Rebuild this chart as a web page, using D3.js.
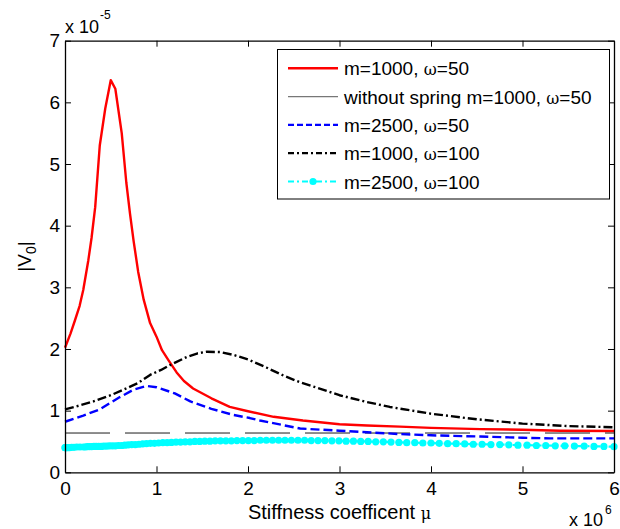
<!DOCTYPE html>
<html><head><meta charset="utf-8">
<script src="https://cdn.jsdelivr.net/npm/d3@7"></script>
<style>body{margin:0;background:#fff}svg{display:block}text{font-family:"Liberation Sans",Arial,sans-serif;fill:#000}</style>
</head><body><svg id="c" width="620" height="529"></svg>
<script>
const xTicks=[0,1,2,3,4,5,6];
const yTicks=[0,1,2,3,4,5,6,7];
const legendLabels=["m=1000, |ω|=50","without spring m=1000, |ω|=50","m=2500, |ω|=50","m=1000, |ω|=100","m=2500, |ω|=100"];
const redPts=[[0,2.02],[0.06,2.25],[0.11,2.47],[0.16,2.7],[0.2,2.96],[0.255,3.44],[0.29,3.8],[0.33,4.3],[0.38,5.3],[0.44,5.9],[0.5,6.36],[0.55,6.22],[0.62,5.5],[0.67,4.7],[0.71,4.2],[0.75,3.75],[0.8,3.25],[0.86,2.8],[0.93,2.42],[1.0,2.2],[1.06,1.98],[1.13,1.82],[1.22,1.62],[1.3,1.48],[1.4,1.36],[1.6,1.2],[1.8,1.06],[2.0,0.99],[2.28,0.9],[2.6,0.84],[3.0,0.78],[3.3,0.76],[3.66,0.74],[4.0,0.72],[4.54,0.70],[5.0,0.69],[5.41,0.675],[6,0.67]];
const noSpringPts=[[0,0.637],[6,0.637]];
const bluePts=[[0,0.82],[0.2,0.92],[0.38,1.02],[0.5,1.13],[0.6,1.22],[0.75,1.34],[0.89,1.40],[1.0,1.38],[1.2,1.28],[1.37,1.15],[1.6,1.03],[1.84,0.93],[2.02,0.88],[2.13,0.84],[2.4,0.76],[2.57,0.71],[3.0,0.675],[3.3,0.65],[3.66,0.62],[4.0,0.60],[4.54,0.58],[5.0,0.56],[5.3,0.55],[6,0.55]];
const blackPts=[[0,1.02],[0.15,1.08],[0.31,1.15],[0.5,1.25],[0.67,1.36],[0.8,1.45],[0.93,1.58],[1.05,1.66],[1.15,1.74],[1.33,1.87],[1.45,1.93],[1.55,1.955],[1.7,1.95],[1.85,1.9],[2.0,1.83],[2.2,1.7],[2.4,1.56],[2.57,1.46],[2.8,1.35],[3.0,1.25],[3.3,1.14],[3.55,1.06],[4.0,0.95],[4.5,0.86],[5.0,0.79],[5.5,0.75],[6,0.73]];
const cyanPts=[[0,0.40],[0.002,0.40],[0.008,0.40],[0.018,0.40],[0.032,0.40],[0.05,0.40],[0.073,0.405],[0.099,0.405],[0.129,0.41],[0.164,0.41],[0.202,0.41],[0.223,0.41],[0.244,0.415],[0.267,0.415],[0.291,0.415],[0.316,0.42],[0.341,0.42],[0.368,0.42],[0.396,0.42],[0.425,0.425],[0.455,0.425],[0.485,0.43],[0.517,0.43],[0.55,0.43],[0.584,0.435],[0.619,0.435],[0.654,0.44],[0.691,0.445],[0.729,0.45],[0.768,0.45],[0.808,0.455],[0.849,0.46],[0.891,0.465],[0.934,0.47],[0.978,0.47],[1.023,0.475],[1.069,0.48],[1.116,0.48],[1.163,0.485],[1.213,0.49],[1.263,0.49],[1.314,0.495],[1.366,0.495],[1.419,0.50],[1.473,0.50],[1.528,0.505],[1.584,0.505],[1.641,0.51],[1.699,0.51],[1.758,0.51],[1.818,0.51],[1.879,0.515],[1.941,0.515],[2.004,0.515],[2.068,0.515],[2.134,0.52],[2.2,0.52],[2.267,0.52],[2.335,0.52],[2.404,0.52],[2.474,0.52],[2.546,0.52],[2.618,0.52],[2.691,0.515],[2.765,0.515],[2.84,0.515],[2.917,0.51],[2.994,0.51],[3.072,0.505],[3.152,0.505],[3.232,0.50],[3.313,0.50],[3.396,0.495],[3.479,0.495],[3.563,0.49],[3.649,0.485],[3.735,0.48],[3.823,0.48],[3.911,0.475],[4.0,0.475],[4.09,0.47],[4.182,0.465],[4.275,0.465],[4.368,0.46],[4.462,0.455],[4.558,0.455],[4.655,0.45],[4.752,0.45],[4.85,0.445],[4.95,0.44],[5.05,0.44],[5.152,0.435],[5.254,0.435],[5.358,0.43],[5.462,0.43],[5.567,0.425],[5.674,0.425],[5.781,0.42],[5.89,0.42],[6.0,0.415]];

const L=65,R=614,T=40.7,B=472.3;
const svg=d3.select("#c");
const x=d3.scaleLinear().domain([0,6]).range([L,R]);
const y=d3.scaleLinear().domain([0,7]).range([B,T]);
const line=d3.line().x(d=>x(d[0])).y(d=>y(d[1]));

const series=[
 {pts:redPts,color:"#ff0000",w:2.4,dash:null,lw:2.4},
 {pts:noSpringPts,color:"#000",w:0.9,dash:"45,15",legendColor:"#777",lw:1.2,ldash:null},
 {pts:bluePts,color:"#0000ff",w:2.4,dash:"9,4",lw:2.2,ldash:"6,3"},
 {pts:blackPts,color:"#000",w:2.4,dash:"9,3,2,3",lw:2.2,ldash:"6,3,2,3"},
 {pts:cyanPts,color:"#00ffff",w:2.2,dash:"8,3,2,3",lw:2.2,ldash:"6,3,2,3",marker:true}
];
const g=svg.append("g");
series.forEach(s=>{
 g.append("path").datum(s.pts).attr("d",line).attr("fill","none").attr("stroke",s.color)
  .attr("stroke-width",s.w).attr("stroke-dasharray",s.dash).attr("stroke-linejoin","round");
 if(s.marker){
  g.selectAll(null).data(s.pts).enter().append("circle").attr("cx",d=>x(d[0])).attr("cy",d=>y(d[1]))
   .attr("r",3.6).attr("fill",s.color);
 }
});

// axes (box with inward ticks)
const ax=svg.append("g");
ax.append("g").attr("transform",`translate(0,${B})`).call(d3.axisBottom(x).tickValues(xTicks).tickSizeInner(-6).tickSizeOuter(0).tickPadding(9).tickFormat(d3.format("d")));
ax.append("g").attr("transform",`translate(0,${T})`).call(d3.axisTop(x).tickValues(xTicks).tickSizeInner(-6).tickSizeOuter(0).tickFormat(""));
ax.append("g").attr("transform",`translate(${L},0)`).call(d3.axisLeft(y).tickValues(yTicks).tickSizeInner(-6).tickSizeOuter(0).tickPadding(5).tickFormat(d3.format("d")));
ax.append("g").attr("transform",`translate(${R},0)`).call(d3.axisRight(y).tickValues(yTicks).tickSizeInner(-6).tickSizeOuter(0).tickFormat(""));
ax.selectAll(".domain").attr("stroke","#000").attr("stroke-width",1.3);
ax.selectAll(".tick line").attr("stroke","#000").attr("stroke-width",1);
ax.selectAll(".tick text").attr("font-size",19).attr("font-family","Liberation Sans, Arial, sans-serif").attr("fill","#000");

// exponent labels
const e1=svg.append("text").attr("x",65).attr("y",33).attr("font-size",18);
e1.append("tspan").text("x 10");
e1.append("tspan").attr("font-size",12).attr("dy",-14).attr("dx",1).text("-5");
const e2=svg.append("text").attr("x",569).attr("y",526).attr("font-size",18);
e2.append("tspan").text("x 10");
e2.append("tspan").attr("font-size",12).attr("dy",-12).attr("dx",2).text("6");

// axis labels
const xl=svg.append("text").attr("x",(L+R)/2).attr("y",519).attr("text-anchor","middle").attr("font-size",20);
xl.append("tspan").text("Stiffness coefficent ");
xl.append("tspan").attr("font-family","DejaVu Serif, serif").attr("font-size",16).text("μ");
const yl=svg.append("text").attr("transform",`translate(31,${(T+B)/2}) rotate(-90)`).attr("text-anchor","middle").attr("font-size",19);
yl.append("tspan").text("|V");
yl.append("tspan").attr("font-size",14).attr("dy",5).text("0");
yl.append("tspan").attr("dy",-5).text("|");

// legend
const lg=svg.append("g");
lg.append("rect").attr("x",277.5).attr("y",49.5).attr("width",332).attr("height",149.5).attr("fill","#fff").attr("stroke","#000").attr("stroke-width",1);
series.forEach((s,i)=>{
 const cy=68.3+i*28.3;
 lg.append("line").attr("x1",288).attr("x2",338).attr("y1",cy).attr("y2",cy).attr("stroke",s.legendColor||s.color)
  .attr("stroke-width",s.lw).attr("stroke-dasharray",s.ldash||null);
 if(s.marker) lg.append("circle").attr("cx",313).attr("cy",cy).attr("r",3.6).attr("fill",s.color);
 const t=lg.append("text").attr("x",344).attr("y",cy+7).attr("font-size",19);
 legendLabels[i].split("|").forEach(part=>{
  const sp=t.append("tspan").text(part);
  if(part==="ω") sp.attr("font-family","DejaVu Serif, serif").attr("font-size",16);
 });
});
</script></body></html>
